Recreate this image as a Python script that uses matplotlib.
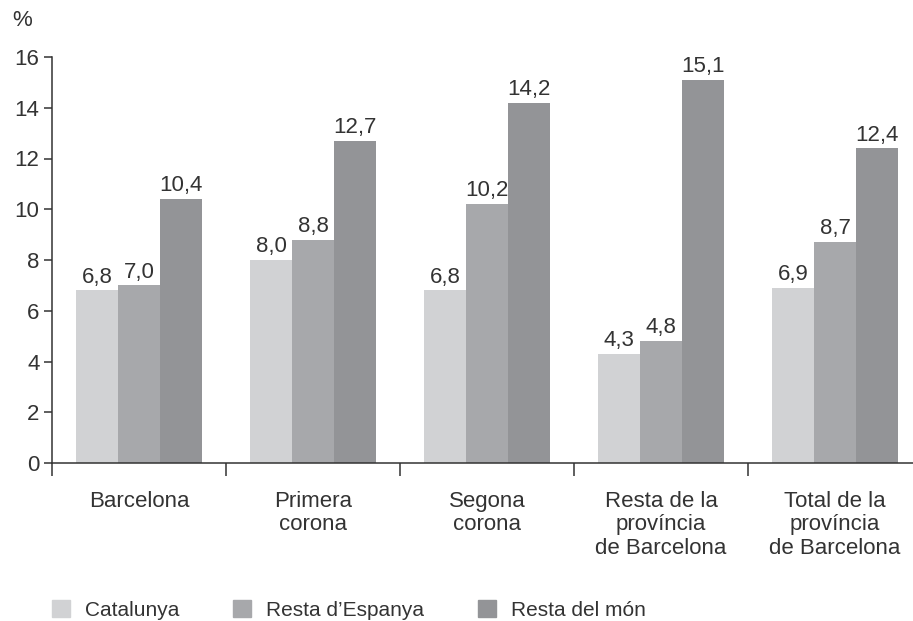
import numpy as np
import matplotlib.pyplot as plt
from matplotlib.patches import Rectangle

plt.rcParams['font.family'] = ['Liberation Sans', 'DejaVu Sans']

categories = ["Barcelona", "Primera\ncorona", "Segona\ncorona",
              "Resta de la\nprovíncia\nde Barcelona", "Total de la\nprovíncia\nde Barcelona"]
series = ["Catalunya", "Resta d’Espanya", "Resta del món"]
catalunya = [6.8, 8.0, 6.8, 4.3, 6.9]
espanya = [7.0, 8.8, 10.2, 4.8, 8.7]
mon = [10.4, 12.7, 14.2, 15.1, 12.4]
colors = ["#d1d2d4", "#a7a8ab", "#939497"]

fig = plt.figure(figsize=(9.13, 6.21), dpi=100)
W, H = 913, 621
ax = fig.add_axes([52 / W, (H - 463) / H, 870 / W, 406 / H])

fs = 16
x = np.arange(len(categories)) + 0.5
width = 0.241
txtc = "#333333"
for i, (vals, col) in enumerate(zip([catalunya, espanya, mon], colors)):
    bars = ax.bar(x + (i - 1) * width, vals, width, color=col, label=series[i])
    ax.bar_label(bars, labels=[f"{v:.1f}".replace(".", ",") for v in vals],
                 padding=2, fontsize=fs, color=txtc)

ax.set_xlim(0, 5)
ax.set_ylim(0, 16)
ax.set_yticks(np.arange(0, 17, 2))
ax.tick_params(axis="y", labelsize=fs, length=6, width=1.1, color=txtc, labelcolor=txtc, pad=3)
ax.set_xticks(np.arange(0, 6))
ax.set_xticklabels([])
ax.set_xticks(x, minor=True)
ax.set_xticklabels(categories, minor=True, fontsize=fs, color=txtc, linespacing=1.15, va="top")
ax.tick_params(axis="x", which="major", length=9, width=1.1, color=txtc)
ax.tick_params(axis="x", which="minor", length=0, pad=20)
for s in ["top", "right"]:
    ax.spines[s].set_visible(False)
for s in ["left", "bottom"]:
    ax.spines[s].set_color(txtc)
    ax.spines[s].set_linewidth(1.1)

fig.text(12 / W, 1 - 20 / H, "%", fontsize=fs, color=txtc, va="center")

handles = [Rectangle((0, 0), 1, 1, color=c) for c in colors]
fig.legend(handles, series, loc="lower left", bbox_to_anchor=(52 / W, 1 / H),
           ncol=3, frameon=False, fontsize=15, handlelength=0.85, handleheight=0.85,
           handletextpad=0.72, columnspacing=2.6, borderpad=0, borderaxespad=0,
           labelcolor=txtc)

fig.savefig("out.png", dpi=100)
